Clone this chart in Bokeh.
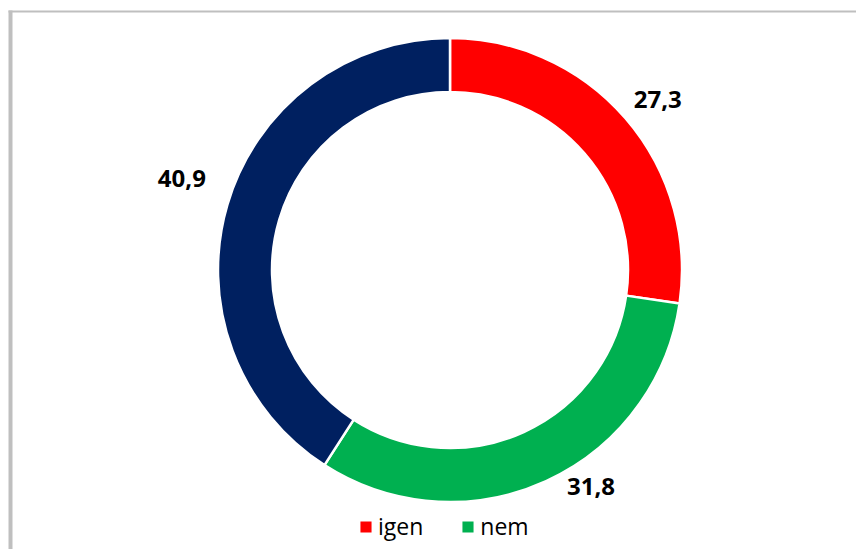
import math
from bokeh.plotting import figure
from bokeh.models import ColumnDataSource, Range1d, Legend, LegendItem
from bokeh.embed import file_html
from bokeh.resources import INLINE

# ---- data ----
categories = ["igen", "nem", "nem tudja"]
values = [27.3, 31.8, 40.9]
labels = ["27,3", "31,8", "40,9"]
colors = ["#FF0000", "#00B050", "#002060"]
legend_shown = ["igen", "nem"]

# ---- layout (pixels) ----
W, H = 856, 549
cx, cy = 449.5, 279.5
r_out, r_in = 232, 178
r_lab = 268
lab_dx = [5, 30, -11]
lab_dy = [5, -27, -16]

total = sum(values)
starts, ends, lx, ly = [], [], [], []
cum = 0.0
for v in values:
    a0 = cum / total
    cum += v
    a1 = cum / total
    # clockwise from 12 o'clock
    starts.append(math.pi / 2 - a1 * 2 * math.pi)
    ends.append(math.pi / 2 - a0 * 2 * math.pi)
    mid = (a0 + a1) / 2 * 2 * math.pi
    lx.append(cx + r_lab * math.sin(mid))
    ly.append(cy + r_lab * math.cos(mid))

src = ColumnDataSource(dict(cat=categories, val=values, start=starts, end=ends,
                            color=colors, lab=labels, lx=lx, ly=ly,
                            dx=lab_dx, dy=lab_dy))

p = figure(width=W, height=H, output_backend="svg", toolbar_location=None,
           x_range=Range1d(0, W), y_range=Range1d(0, H),
           x_axis_type=None, y_axis_type=None, min_border=0,
           outline_line_color=None, background_fill_color="white",
           border_fill_color="white")
p.grid.visible = False

r = p.annular_wedge(x=cx, y=cy, inner_radius=r_in, outer_radius=r_out,
                    start_angle="start", end_angle="end", source=src,
                    fill_color="color", line_color="white", line_width=2.5)

p.text(x="lx", y="ly", text="lab", source=src, x_offset="dx", y_offset="dy",
       text_align="center", text_baseline="middle",
       text_font={"value": "Open Sans"}, text_font_style="bold",
       text_font_size="24px", text_color="black")

# chart frame border (left and top visible in crop)
p.segment(x0=[10, 8], y0=[0, 538], x1=[10, W], y1=[539, 538],
          line_color="#BFBFBF", line_width=[4, 2])

items = [LegendItem(label=c, renderers=[r], index=categories.index(c)) for c in legend_shown]
legend = Legend(items=items, orientation="horizontal", location=(357, 7),
                glyph_width=17, glyph_height=17, label_standoff=4, spacing=36,
                padding=0, margin=0, border_line_color=None,
                background_fill_alpha=0,
                label_text_font="Open Sans", label_text_font_size="23px",
                label_text_color="black")
p.add_layout(legend, "center")

open("out.html", "w").write(file_html(p, INLINE))
